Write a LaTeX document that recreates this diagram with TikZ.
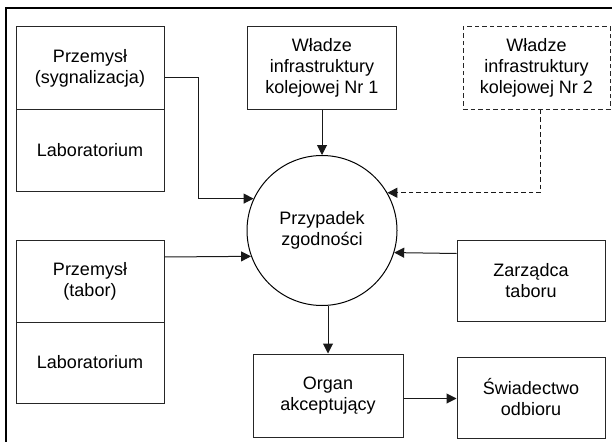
\documentclass[tikz,border=0pt]{standalone}
\usepackage{fontspec}
\setmainfont{Liberation Sans}
\usetikzlibrary{arrows.meta,calc}
\begin{document}
\begin{tikzpicture}[x=1pt,y=-1pt,
  box/.style={draw=black!85,line width=1pt,minimum width=#1,minimum height=82pt,inner sep=0pt,
    align=center,text=black,font=\fontsize{18}{21}\selectfont},
  box/.default=148pt,
  dbox/.style={box=#1,dash pattern=on 4.5pt off 3pt},
  circ/.style={draw=black,line width=1pt,circle,minimum size=150pt,inner sep=0pt,
    align=center,text=black,font=\fontsize{18}{21}\selectfont},
  arr/.style={draw=black!90,line width=1pt,-{Triangle[length=10pt,width=10pt]}},
  darr/.style={arr,dash pattern=on 4.5pt off 3pt}]
\useasboundingbox (0,0) rectangle (612,441);
\draw[line width=2.6pt] (6,8) rectangle (650,480);
% left top group
\node[box] (P1) at (90,68) {Przemysł\\(sygnalizacja)};
\node[box] (L1) at (90,150) {Laboratorium};
% left bottom group
\node[box,minimum height=82pt] (P2) at (90,281) {Przemysł\\(tabor)};
\node[box,minimum height=81pt] (L2) at (90,362.5) {Laboratorium};
% top
\node[box=149pt] (W1) at (322,68) {Władze\\infrastruktury\\kolejowej Nr 1};
\node[dbox=147pt] (W2) at (536.5,68) {Władze\\infrastruktury\\kolejowej Nr 2};
% circle
\node[circ] (c) at (322,230.5) {Przypadek\\zgodności};
% right
\node[box,minimum height=81pt] (Z) at (531,280.5) {Zarządca\\taboru};
\node[box=150pt,minimum height=83pt] (O) at (328,395.5) {Organ\\akceptujący};
\node[box,minimum height=81pt] (S) at (531,397.5) {Świadectwo\\odbioru};
% connectors
\coordinate (e1) at (c.155.2);
\coordinate (k1) at (198,0);
\draw[arr] ([yshift=-10pt]P1.east) -| (k1 |- e1) -- (e1);
\draw[arr] ([yshift=24pt]P2.east) -- (c.200.7);
\draw[arr] (W1.south) -- (c.north);
\coordinate (e2) at (c.30.9);
\draw[darr] ([xshift=3.5pt]W2.south) |- (e2);
\draw[arr] ([yshift=27pt]Z.west) -- (c.-17.9);
\draw[arr] (c.south -| O.north) -- (O.north);
\draw[arr] ([yshift=-3pt]O.east) -- ([yshift=-3pt]O.east -| S.west);
\end{tikzpicture}
\end{document}
